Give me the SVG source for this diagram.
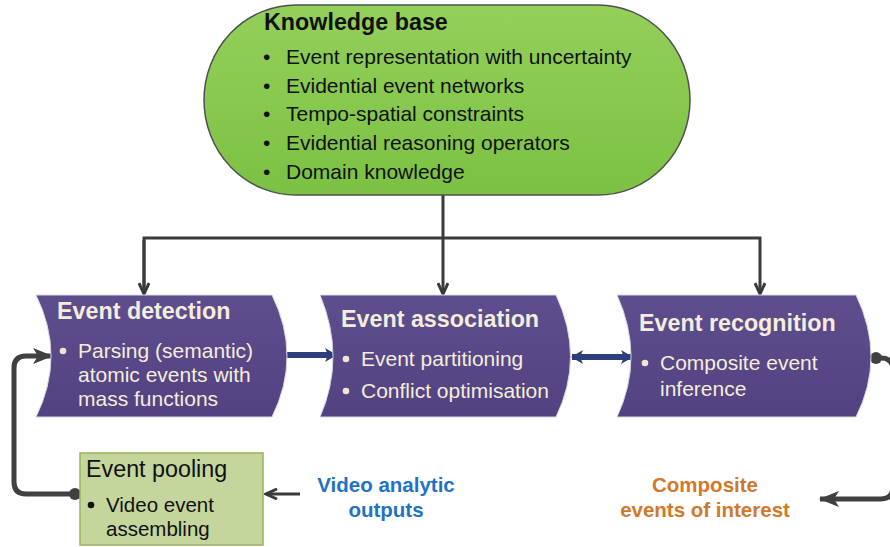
<svg xmlns="http://www.w3.org/2000/svg" width="890" height="547" viewBox="0 0 890 547">
<defs>
<linearGradient id="gGreen" x1="0" y1="0" x2="0" y2="1">
<stop offset="0" stop-color="#93d05a"/>
<stop offset="1" stop-color="#7cc143"/>
</linearGradient>
<linearGradient id="gPurple" x1="0" y1="0" x2="0" y2="1">
<stop offset="0" stop-color="#5e4e8e"/>
<stop offset="1" stop-color="#524280"/>
</linearGradient>
<marker id="open" markerUnits="userSpaceOnUse" viewBox="0 0 14 12" markerWidth="14" markerHeight="12" refX="12" refY="6" orient="auto">
<path d="M1,1 L12,6 L1,11" fill="none" stroke="#3a3a3a" stroke-width="3" stroke-linejoin="miter"/>
</marker>
<marker id="navy" markerUnits="userSpaceOnUse" viewBox="0 0 12 14" markerWidth="12" markerHeight="14" refX="11" refY="7" orient="auto-start-reverse">
<path d="M0,0 L12,7 L0,14 L3,7 Z" fill="#2c3f7c"/>
</marker>
<marker id="gray" markerUnits="userSpaceOnUse" viewBox="0 0 20 16" markerWidth="20" markerHeight="16" refX="19" refY="8" orient="auto">
<path d="M0,0 L20,8 L0,16 L5,8 Z" fill="#404040"/>
</marker>
</defs>
<style>
.t{font-family:"Liberation Sans",Arial,sans-serif}
.kb{font-size:21px;fill:#111}
.kbh{font-size:23.3px;font-weight:bold;fill:#111}
.ph{font-size:23.3px;font-weight:bold;fill:#f4eddc}
.pb{font-size:21px;fill:#f4eddc}
.pd{fill:#f4e4cf}
.conn{fill:none;stroke:#3a3a3a;stroke-width:3}
.thick{fill:none;stroke:#404040;stroke-width:5}
.blue{fill:none;stroke:#2c3f7c;stroke-width:6}
.purple{fill:url(#gPurple);stroke:#d8d4e4;stroke-width:1}
</style>
<g id="connectors">
<line class="conn" x1="443" y1="195" x2="443" y2="294" marker-end="url(#open)"/>
<polyline class="conn" points="144,294 144,238 760,238 760,294" marker-end="url(#open)"/>
<line class="conn" x1="144" y1="240" x2="144" y2="294" marker-end="url(#open)"/>
<line class="blue" x1="287" y1="355" x2="336" y2="355" marker-end="url(#navy)"/>
<line class="blue" x1="572" y1="357" x2="632" y2="357" marker-start="url(#navy)" marker-end="url(#navy)"/>
<path class="thick" d="M75,494 H26 Q14,494 14,482 V368 Q14,356 26,356 H52" marker-end="url(#gray)"/>
<circle cx="75" cy="494" r="6" fill="#404040"/>
<path class="thick" d="M876,358 H881 Q893,358 893,370 V487 Q893,499 881,499 H820" marker-end="url(#gray)"/>
<circle cx="876" cy="358" r="6" fill="#404040"/>
<line class="conn" x1="300" y1="494" x2="266" y2="494" stroke-width="4" marker-end="url(#open)"/>
</g>
<g id="knowledge-base">
<rect x="204" y="5" width="486" height="190" rx="92" ry="95" fill="url(#gGreen)" stroke="#505050" stroke-width="1.5"/>
<text class="t kbh" x="264" y="30">Knowledge base</text>
<g class="t kb">
<text x="263" y="64">•</text><text x="286" y="64">Event representation with uncertainty</text>
<text x="263" y="93">•</text><text x="286" y="93">Evidential event networks</text>
<text x="263" y="121">•</text><text x="286" y="121">Tempo-spatial constraints</text>
<text x="263" y="150">•</text><text x="286" y="150">Evidential reasoning operators</text>
<text x="263" y="179">•</text><text x="286" y="179">Domain knowledge</text>
</g>
</g>
<g id="event-detection">
<path class="purple" d="M36,295 L272,295 Q302,356 272,417 L36,417 Q66,356 36,295 Z"/>
<text class="t ph" x="57" y="319">Event detection</text>
<circle class="pd" cx="63" cy="351" r="3.3"/>
<text class="t pb" x="78" y="358">Parsing (semantic)</text>
<text class="t pb" x="78" y="382">atomic events with</text>
<text class="t pb" x="78" y="406">mass functions</text>
</g>
<g id="event-association">
<path class="purple" d="M320,295 L556,295 Q585,357 556,417 L320,417 Q346,357 320,295 Z"/>
<text class="t ph" x="341" y="327">Event association</text>
<circle class="pd" cx="346" cy="359" r="3.3"/>
<text class="t pb" x="361" y="366">Event partitioning</text>
<circle class="pd" cx="346" cy="391" r="3.3"/>
<text class="t pb" x="361" y="398">Conflict optimisation</text>
</g>
<g id="event-recognition">
<path class="purple" d="M617,295 L856,295 Q886,357 856,417 L617,417 Q645,357 617,295 Z"/>
<text class="t ph" x="639" y="331">Event recognition</text>
<circle class="pd" cx="645" cy="363" r="3.3"/>
<text class="t pb" x="660" y="370">Composite event</text>
<text class="t pb" x="660" y="396">inference</text>
</g>
<g id="event-pooling">
<rect x="80" y="453" width="183" height="92" fill="#c4d69c" stroke="#98b35a" stroke-width="1.5"/>
<text class="t" x="86" y="477" font-size="23.3" fill="#111">Event pooling</text>
<circle cx="91" cy="505" r="3.3" fill="#111"/>
<text class="t" x="106" y="512" font-size="20.5" fill="#111">Video event</text>
<text class="t" x="106" y="536" font-size="20.5" fill="#111">assembling</text>
</g>
<g id="video-analytic-outputs">
<text class="t" x="386" y="492" font-size="20.5" font-weight="bold" fill="#1f73c4" text-anchor="middle">Video analytic</text>
<text class="t" x="386" y="517" font-size="20.5" font-weight="bold" fill="#1f73c4" text-anchor="middle">outputs</text>
</g>
<g id="composite-events">
<text class="t" x="705" y="492" font-size="20.5" font-weight="bold" fill="#d2782a" text-anchor="middle">Composite</text>
<text class="t" x="705" y="517" font-size="20.5" font-weight="bold" fill="#d2782a" text-anchor="middle">events of interest</text>
</g>
</svg>
